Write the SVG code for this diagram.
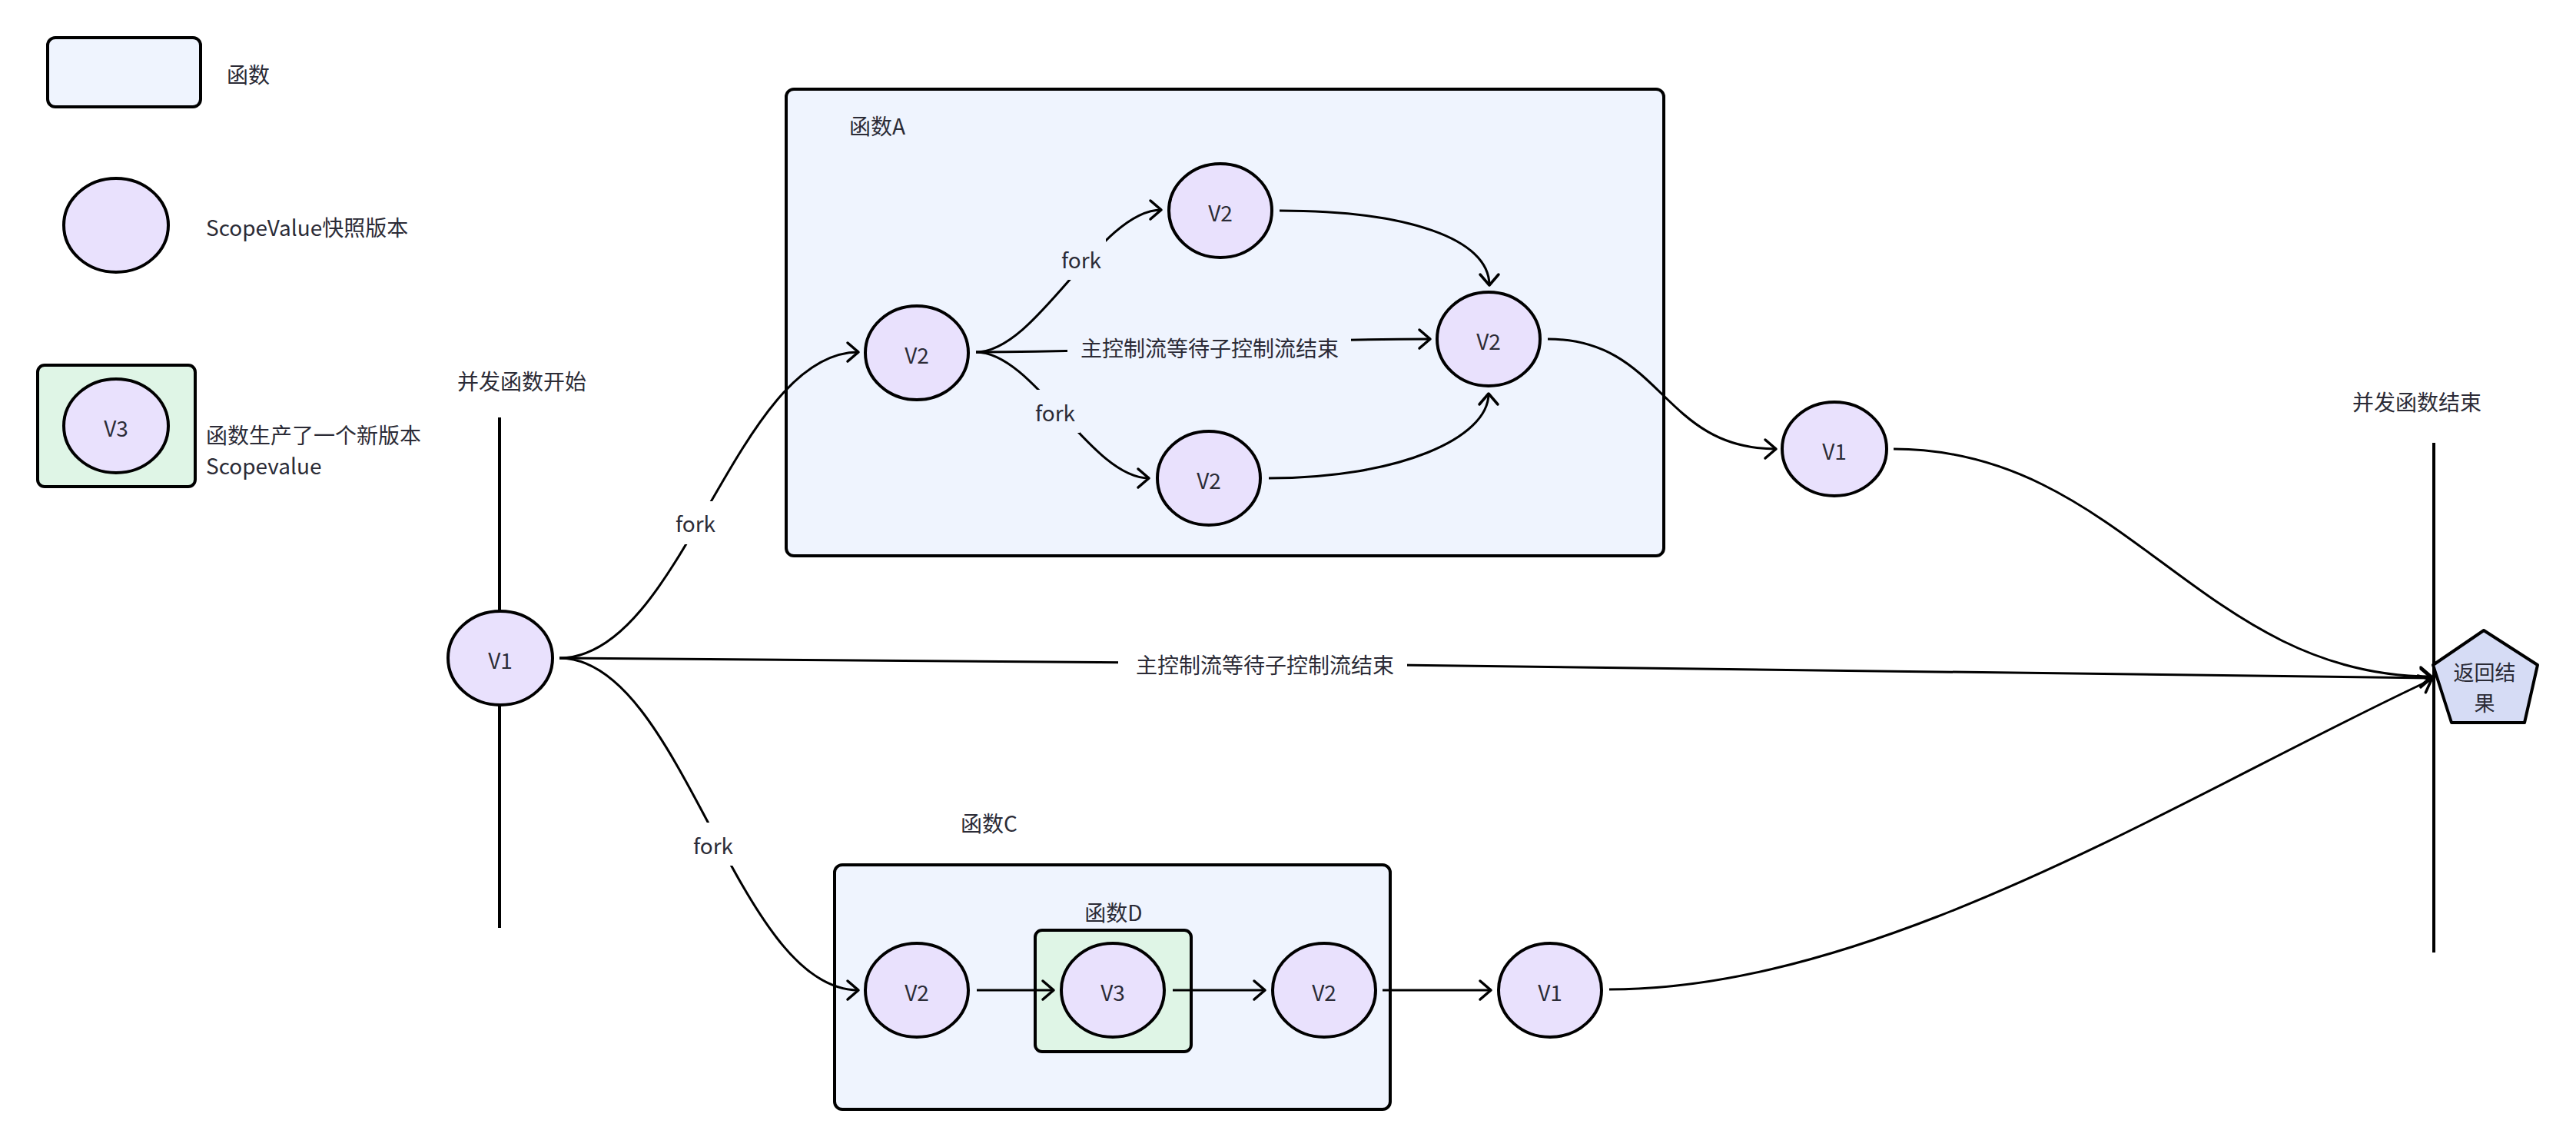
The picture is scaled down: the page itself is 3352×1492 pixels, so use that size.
<svg xmlns="http://www.w3.org/2000/svg" width="3352" height="1492" viewBox="0 0 3352 1492">
<style>
text{font-family:"Noto Sans CJK SC","Noto Sans",sans-serif;font-size:28px;fill:#2b2b36;dominant-baseline:central}
.c{text-anchor:middle}
.box{fill:#eff4fe;stroke:#000;stroke-width:4}
.grn{fill:#dff5e6;stroke:#000;stroke-width:4}
.ell{fill:#e9e1fd;stroke:#000;stroke-width:4}
.pent{fill:#d6dcf5;stroke:#000;stroke-width:4;stroke-linejoin:round}
.e{fill:none;stroke:#000;stroke-width:3;marker-end:url(#arr)}
.ln{fill:none;stroke:#000;stroke-width:3}
.vl{stroke:#000;stroke-width:4}
.bgw{fill:#fff}
.bgb{fill:#eff4fe}
</style>
<defs>
<marker id="arr" markerUnits="userSpaceOnUse" markerWidth="40" markerHeight="40" viewBox="-20 -20 40 40" refX="0" refY="0" orient="auto">
<path d="M-14,-12 L0,0 L-14,12" fill="none" stroke="#000" stroke-width="3.5" stroke-linecap="round" stroke-linejoin="round"/>
</marker>
</defs>
<g id="legend">
<g id="legend-func"><rect x="62" y="49" width="199" height="90" rx="10" class="box"/><text x="295" y="96">函数</text></g>
<g id="legend-snapshot"><ellipse cx="151" cy="293" rx="68" ry="61" class="ell"/><text x="268" y="295">ScopeValue快照版本</text></g>
<g id="legend-new"><rect x="49" y="475" width="205" height="158" rx="9" class="grn"/><ellipse cx="151" cy="554" rx="68" ry="61" class="ell"/><text x="151" y="556" class="c">V3</text><text x="268" y="565">函数生产了一个新版本</text><text x="268" y="605">Scopevalue</text></g>
</g>
<g id="start-line"><line x1="650" y1="543" x2="650" y2="1207" class="vl"/><text x="679" y="495" class="c">并发函数开始</text></g>
<g id="end-line"><line x1="3167" y1="576" x2="3167" y2="1239" class="vl"/><text x="3145" y="522" class="c">并发函数结束</text></g>
<g id="funcA"><rect x="1023" y="116" width="1142" height="607" rx="10" class="box"/><text x="1105" y="163">函数A</text></g>
<g id="funcC"><rect x="1086" y="1125" width="723" height="318" rx="10" class="box"/><text x="1287" y="1070" class="c">函数C</text></g>
<g id="funcD"><rect x="1347" y="1210" width="203" height="158" rx="9" class="grn"/><text x="1449" y="1186" class="c">函数D</text></g>
<g id="connectors">
<path d="M728,856 C888,856 957,458 1117,458" class="e"/>
<path d="M728,856 C888,856 957,1288 1117,1288" class="e"/>
<path d="M728,856 C1500,857 2500,876 3164,882" class="e"/>
<path d="M1270,458 C1350,458 1431,273 1511,273" class="e"/>
<path d="M1270,458 C1345,458 1420,622 1495,622" class="e"/>
<path d="M1270,458 C1500,458 1630,441 1861,441" class="e"/>
<path d="M1665,274 C1830,274 1938,310 1938,371" class="e"/>
<path d="M1651,622 C1820,622 1937,570 1937,512" class="e"/>
<path d="M2014,441 C2164,441 2161,584 2311,584" class="e"/>
<path d="M2464,584 C2764,584 2864,880 3164,880" class="e"/>
<path d="M1271,1288 L1371,1288" class="e"/>
<path d="M1526,1288 L1646,1288" class="e"/>
<path d="M1799,1288 L1940,1288" class="e"/>
<path d="M2094,1287 C2450,1287 2850,1030 3164,884" class="e"/>
<g id="edge-labels">
<rect x="874" y="652" width="62" height="56" class="bgw"/><text x="905" y="680" class="c">fork</text>
<rect x="897" y="1070" width="62" height="56" class="bgw"/><text x="928" y="1099" class="c">fork</text>
<rect x="1455" y="840" width="376" height="48" class="bgw"/><text x="1646" y="864" class="c">主控制流等待子控制流结束</text>
<rect x="1377" y="308" width="62" height="56" class="bgb"/><text x="1407" y="337" class="c">fork</text>
<rect x="1343" y="507" width="62" height="56" class="bgb"/><text x="1373" y="536" class="c">fork</text>
<rect x="1389" y="428" width="369" height="48" class="bgb"/><text x="1574" y="452" class="c">主控制流等待子控制流结束</text>
</g>
</g>
<g id="v1-start"><ellipse cx="651" cy="856" rx="68" ry="61" class="ell"/><text x="651" y="858" class="c">V1</text></g>
<g id="a-v2-left"><ellipse cx="1193" cy="459" rx="67" ry="61" class="ell"/><text x="1193" y="461" class="c">V2</text></g>
<g id="a-v2-top"><ellipse cx="1588" cy="274" rx="67" ry="61" class="ell"/><text x="1588" y="276" class="c">V2</text></g>
<g id="a-v2-right"><ellipse cx="1937" cy="441" rx="67" ry="61" class="ell"/><text x="1937" y="443" class="c">V2</text></g>
<g id="a-v2-bottom"><ellipse cx="1573" cy="622" rx="67" ry="61" class="ell"/><text x="1573" y="624" class="c">V2</text></g>
<g id="v1-mid"><ellipse cx="2387" cy="584" rx="68" ry="61" class="ell"/><text x="2387" y="586" class="c">V1</text></g>
<g id="c-v2-left"><ellipse cx="1193" cy="1288" rx="67" ry="61" class="ell"/><text x="1193" y="1290" class="c">V2</text></g>
<g id="d-v3"><ellipse cx="1448" cy="1288" rx="67" ry="61" class="ell"/><text x="1448" y="1290" class="c">V3</text></g>
<g id="c-v2-right"><ellipse cx="1723" cy="1288" rx="67" ry="61" class="ell"/><text x="1723" y="1290" class="c">V2</text></g>
<g id="v1-bottom"><ellipse cx="2017" cy="1288" rx="67" ry="61" class="ell"/><text x="2017" y="1290" class="c">V1</text></g>
<g id="result"><polygon points="3232,820 3302,865 3285,940 3190,940 3166,865" class="pent"/><text x="3233" y="873" class="c" style="font-size:27px">返回结</text><text x="3233" y="913" class="c" style="font-size:27px">果</text></g>
</svg>
